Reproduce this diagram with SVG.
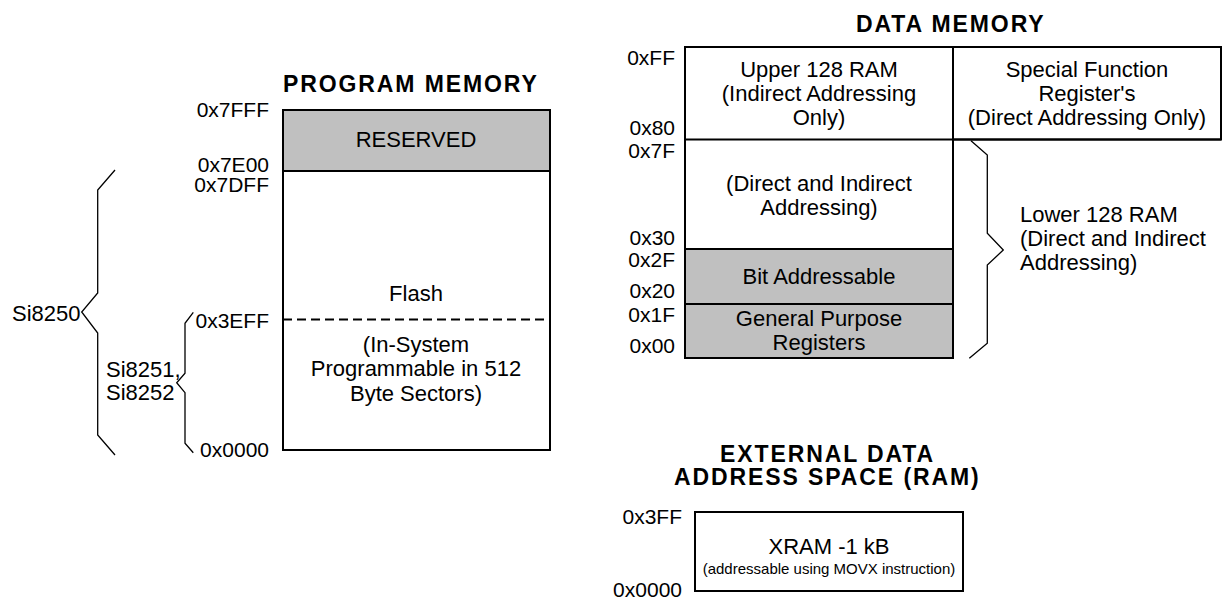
<svg xmlns="http://www.w3.org/2000/svg" width="1224" height="601" viewBox="0 0 1224 601">
<style>
text{font-family:"Liberation Sans",Arial,sans-serif;font-size:22px;fill:#000}
.t{font-weight:bold;font-size:23px;letter-spacing:1.9px}
.a{font-size:21px}
.c{text-anchor:middle}
.e{text-anchor:end}
.box{fill:#fff;stroke:#000;stroke-width:2}
.grey{fill:#c0c0c0;stroke:#000;stroke-width:2}
.ln{fill:none;stroke:#000;stroke-width:2}
.br{fill:none;stroke:#000;stroke-width:1.3}
</style>
<rect width="1224" height="601" fill="#fff"/>

<g id="program-memory">
<text class="t" x="283" y="92">PROGRAM MEMORY</text>
<rect class="box" x="283" y="110" width="267" height="340"/>
<rect class="grey" x="283" y="110" width="267" height="61"/>
<text class="c" x="416" y="147">RESERVED</text>
<line class="ln" x1="283" y1="319.5" x2="550" y2="319.5" stroke-dasharray="9 5"/>
<text class="c" x="416" y="301">Flash</text>
<text class="c" x="416" y="352">(In-System</text>
<text class="c" x="416" y="376">Programmable in 512</text>
<text class="c" x="416" y="400.5">Byte Sectors)</text>
<text class="e a" x="269" y="117">0x7FFF</text>
<text class="e a" x="269" y="172">0x7E00</text>
<text class="e a" x="269" y="192">0x7DFF</text>
<text class="e a" x="269" y="328">0x3EFF</text>
<text class="e a" x="269" y="457">0x0000</text>
</g>

<g id="si8250">
<text x="12" y="321">Si8250</text>
</g>
<g id="si8251">
<text x="106" y="377">Si8251,</text>
<text x="106" y="400">Si8252</text>
</g>

<g id="data-memory">
<text class="t" x="856" y="32">DATA MEMORY</text>
<rect class="box" x="685" y="47" width="536" height="92.5"/>
<rect class="box" x="685" y="47" width="268" height="311"/>
<rect class="grey" x="685" y="249" width="268" height="55"/>
<rect class="grey" x="685" y="304" width="268" height="54"/>
<line class="ln" x1="685" y1="139.5" x2="1221" y2="139.5"/>
<text class="c" x="819" y="77">Upper 128 RAM</text>
<text class="c" x="819" y="101">(Indirect Addressing</text>
<text class="c" x="819" y="125">Only)</text>
<text class="c" x="1087" y="77">Special Function</text>
<text class="c" x="1087" y="101">Register's</text>
<text class="c" x="1087" y="125">(Direct Addressing Only)</text>
<text class="c" x="819" y="190.5">(Direct and Indirect</text>
<text class="c" x="819" y="214.5">Addressing)</text>
<text class="c" x="819" y="284">Bit Addressable</text>
<text class="c" x="819" y="326">General Purpose</text>
<text class="c" x="819" y="350">Registers</text>
<text class="e a" x="675" y="65">0xFF</text>
<text class="e a" x="675" y="135">0x80</text>
<text class="e a" x="675" y="158">0x7F</text>
<text class="e a" x="675" y="245">0x30</text>
<text class="e a" x="675" y="267">0x2F</text>
<text class="e a" x="675" y="298">0x20</text>
<text class="e a" x="675" y="322">0x1F</text>
<text class="e a" x="675" y="353">0x00</text>
</g>

<g id="lower-128-ram">
<text x="1020" y="222">Lower 128 RAM</text>
<text x="1020" y="246">(Direct and Indirect</text>
<text x="1020" y="270">Addressing)</text>
</g>

<g id="external-data">
<text class="t" x="720" y="462">EXTERNAL DATA</text>
<text class="t" x="674" y="485">ADDRESS SPACE (RAM)</text>
<rect class="box" x="695" y="512" width="268" height="79"/>
<text class="c" x="829" y="554">XRAM -1 kB</text>
<text class="c" x="829" y="574" style="font-size:15px">(addressable using MOVX instruction)</text>
<text class="e a" x="682" y="524">0x3FF</text>
<text class="e a" x="682" y="597">0x0000</text>
</g>

<g id="connectors">
<polyline class="br" points="115,170 97.7,190 97.7,293 81.7,312 97.7,333 97.7,435 115,455"/>
<polyline class="br" points="193.3,312.3 185,323.3 185,373.3 176.7,382.7 185,392.7 185,443.3 193.3,452.7"/>
<polyline class="br" points="971,140.7 987.3,155 987.3,233.3 1003.3,250 987.3,265 987.3,343.3 969.3,358.3"/>
</g>
</svg>
